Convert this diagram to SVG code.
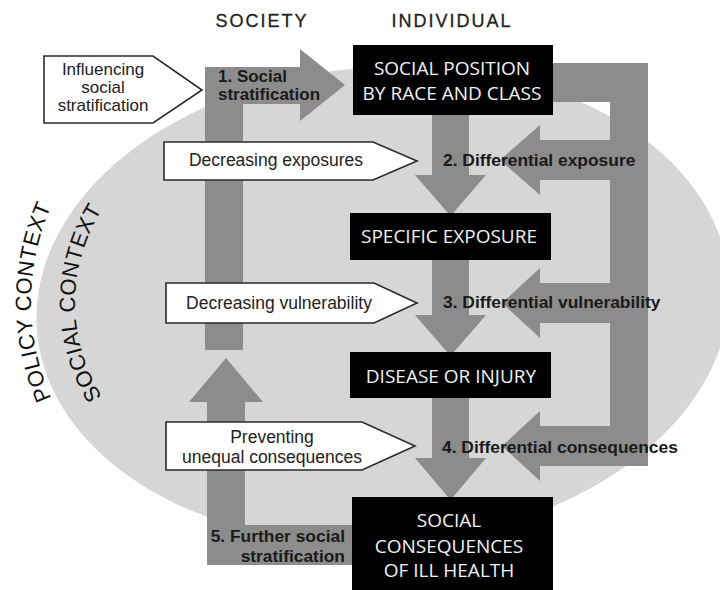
<svg xmlns="http://www.w3.org/2000/svg" width="720" height="590" viewBox="0 0 720 590">
<style>
.hdr{font-family:"Liberation Sans",Arial,sans-serif;font-size:18px;fill:#222;stroke:#222;stroke-width:0.3;letter-spacing:2px;text-anchor:middle}
.ctx{font-family:"Liberation Sans",Arial,sans-serif;font-size:22px;fill:#111;letter-spacing:0.5px}
.conn{fill:#8c8c8c}
.box{fill:#000}
.boxt{font-family:"Open Sans","Noto Sans",sans-serif;font-size:19px;fill:#f2f2f2;text-anchor:middle}
.pent{fill:#fff;stroke:#2a2a2a;stroke-width:1.6}
.pt{font-family:"Liberation Sans",Arial,sans-serif;font-size:17.5px;fill:#222;text-anchor:middle}
.pts{font-size:17px}
.lab{font-family:"Liberation Sans",Arial,sans-serif;font-size:17.4px;font-weight:bold;fill:#1a1a1a}
.labs{font-size:17px}
</style>
<defs>
<path id="arcPolicy" d="M 383,590 A 352 288 0 0 1 383,14"/>
<path id="arcSocial" d="M 383,532 A 308 229 0 0 1 383,74"/>
</defs>
<rect width="720" height="590" fill="#fff"/>
<ellipse id="social-context" cx="383" cy="305" rx="347" ry="238" transform="rotate(-4 383 305)" fill="#d6d6d6"/>
<text class="ctx"><textPath href="#arcPolicy" startOffset="50%" text-anchor="middle">POLICY CONTEXT</textPath></text>
<text class="ctx"><textPath href="#arcSocial" startOffset="50%" text-anchor="middle">SOCIAL CONTEXT</textPath></text>
<text class="hdr" x="262" y="27">SOCIETY</text>
<text class="hdr" x="452" y="27">INDIVIDUAL</text>
<g id="connectors">
<path class="conn" d="M 205,350 V 67 H 300 V 49 L 345,85 L 300,121 V 104 H 243 V 350 Z"/>
<path class="conn" d="M 352,525 H 245 V 402 H 263 L 226,358 L 189,402 H 207 V 565 H 352 Z"/>
<path class="conn" d="M 553,63 H 648 V 466 H 540 V 481 L 502,446 L 540,411 V 426 H 610 V 323 H 540 V 338 L 502,303 L 540,268 V 283 H 610 V 180 H 540 V 195 L 500,160 L 540,125 V 140 H 610 V 102 H 553 Z"/>
<path class="conn" d="M 432,115 V 175 H 415 L 450.5,216 L 486,175 H 469 V 115 Z"/>
<path class="conn" d="M 432,260 V 315 H 415 L 450.5,356 L 486,315 H 469 V 260 Z"/>
<path class="conn" d="M 432,398 V 458 H 415 L 450.5,500 L 486,458 H 469 V 398 Z"/>
</g>
<g id="influencing">
<polygon class="pent" points="44,56 153,56 202,90 153,123 44,123"/>
<text class="pt pts" x="103" y="75">Influencing</text>
<text class="pt pts" x="103" y="93">social</text>
<text class="pt pts" x="103" y="111">stratification</text>
</g>
<g id="decreasing-exposures">
<polygon class="pent" points="164,142 373,142 417,161 373,180 164,180"/>
<text class="pt" x="276" y="166">Decreasing exposures</text>
</g>
<g id="decreasing-vulnerability">
<polygon class="pent" points="166,283 374,283 417,303 374,323 166,323"/>
<text class="pt" x="279" y="309">Decreasing vulnerability</text>
</g>
<g id="preventing">
<polygon class="pent" points="166,422 362,422 415,446 362,470 166,470"/>
<text class="pt" x="272" y="443">Preventing</text>
<text class="pt" x="272" y="463">unequal consequences</text>
</g>
<g id="social-position">
<rect class="box" x="353" y="45" width="200" height="70"/>
<text class="boxt" x="452" y="75">SOCIAL POSITION</text>
<text class="boxt" x="452" y="100">BY RACE AND CLASS</text>
</g>
<g id="specific-exposure">
<rect class="box" x="350" y="213" width="201" height="47"/>
<text class="boxt" x="449" y="243">SPECIFIC EXPOSURE</text>
</g>
<g id="disease">
<rect class="box" x="350" y="352" width="201" height="46"/>
<text class="boxt" x="451" y="383">DISEASE OR INJURY</text>
</g>
<g id="social-consequences">
<rect class="box" x="352" y="497" width="201" height="93"/>
<text class="boxt" x="449" y="527">SOCIAL</text>
<text class="boxt" x="449" y="553">CONSEQUENCES</text>
<text class="boxt" x="449" y="577">OF ILL HEALTH</text>
</g>
<g id="labels">
<text class="lab labs" x="218" y="82">1. Social</text>
<text class="lab labs" x="218" y="100">stratification</text>
<text class="lab" x="443" y="166">2. Differential exposure</text>
<text class="lab" x="443" y="308">3. Differential vulnerability</text>
<text class="lab" x="442" y="453">4. Differential consequences</text>
<text class="lab" x="345" y="542" text-anchor="end">5. Further social</text>
<text class="lab" x="345" y="562" text-anchor="end">stratification</text>
</g>
</svg>
